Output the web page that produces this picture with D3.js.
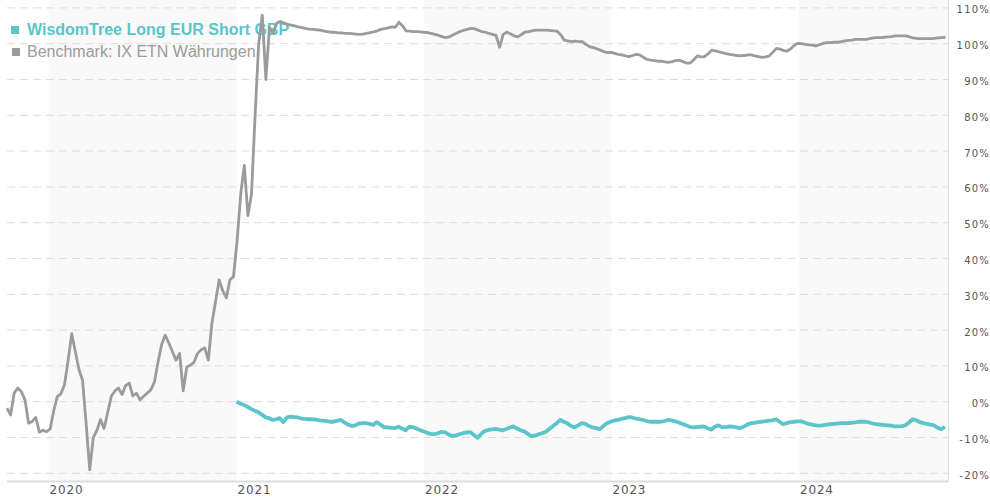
<!DOCTYPE html>
<html>
<head>
<meta charset="utf-8">
<script src="https://cdn.jsdelivr.net/npm/d3@7"></script>
<style>
  body { margin: 0; background: #fff; }
  svg { display: block; }
</style>
</head>
<body>
<svg id="chart" width="990" height="500"></svg>
<script>
// weekly closes (percent change)
const benchStart = '2019-10-12';
const benchValues = [
  -1.8, -3.7, 2.4, 3.8, 2.8, 0.5, -6, -5.5, -4.4, -8.5,
  -8, -8.4, -7.6, -2.5, 1.4, 2.2, 4.8, 11.5, 19, 14,
  9, 6, -6, -19, -10, -8, -5, -7.5, -3, 1.5,
  3, 3.8, 2, 4.5, 5.2, 1.6, 2.4, 0.5, 1.5, 2.4,
  3.3, 5.5, 11, 16, 18.6, 16.4, 14, 11.6, 13.5, 3,
  9.7, 10.2, 11, 13.5, 14.5, 15, 11.6, 22, 28, 34,
  31, 29, 34, 35, 45, 58, 66, 52, 58, 80,
  100, 108, 90, 104.6, 103, 105.7, 106.2, 105.8, 105.4, 105.2,
  105, 104.7, 104.5, 104.3, 104.1, 104, 103.9, 103.8, 103.6, 103.4,
  103.2, 103.2, 103, 103, 102.9, 102.9, 102.8, 102.7, 102.6, 102.7,
  102.9, 103.1, 103.3, 103.6, 104, 104.2, 104.4, 104.7, 104.6, 106,
  105, 103.6, 103.5, 103.4, 103.4, 103.3, 103.2, 103.1, 102.9, 102.6,
  102.3, 102, 101.7, 101.9, 102.4, 102.9, 103.4, 103.7, 104, 104.3,
  104.2, 103.8, 103.4, 103.2, 102.9, 102.6, 102.3, 99, 102.6, 103.2,
  102.8, 102.2, 101.9, 102.5, 103.2, 103.4, 103.6, 103.8, 103.8, 103.8,
  103.8, 103.7, 103.6, 103.5, 102.5, 101, 100.8, 100.6, 100.7, 100.6,
  100.6, 99.8, 99.2, 98.9, 98.6, 98.2, 97.8, 97.5, 97.6, 97.3,
  97, 96.9, 96.6, 96.4, 96.7, 97, 96.9, 96.2, 95.6, 95.4,
  95.3, 95.1, 95.1, 94.9, 94.8, 95, 95.3, 95.4, 95, 94.6,
  94.6, 95.5, 96.6, 96.3, 96.4, 97.2, 98.2, 98, 97.7, 97.5,
  97.2, 97, 96.9, 96.7, 96.6, 96.7, 96.9, 96.9, 96.6, 96.4,
  96.2, 96.3, 96.6, 97.6, 98.7, 98.5, 98.1, 97.9, 98.6, 99.6,
  100.1, 100, 99.8, 99.7, 99.6, 99.4, 99.7, 100.1, 100.3, 100.3,
  100.4, 100.4, 100.6, 100.8, 100.9, 101, 101.2, 101.2, 101.2, 101.2,
  101.4, 101.6, 101.7, 101.7, 101.8, 101.9, 102, 102.2, 102.2, 102.2,
  102.2, 101.9, 101.6, 101.5, 101.4, 101.4, 101.4, 101.4, 101.5, 101.6,
  101.7, 101.8
];

const fundStart = '2021-01-01';
const fundValues = [
  0, -0.5, -0.9, -1.4, -2, -2.5, -2.9, -3.6, -4.3, -4.6,
  -5.1, -4.9, -4.6, -5.7, -4.4, -4.2, -4.3, -4.4, -4.7, -4.8,
  -4.9, -4.9, -5, -5.2, -5.3, -5.4, -5.6, -5.6, -5.3, -5.1,
  -5.8, -6.4, -6.8, -6.6, -6.1, -6, -6, -6.2, -6.5, -5.7,
  -6.4, -7.1, -7.2, -7.3, -7.4, -7, -7.5, -8, -7, -7.1,
  -7.5, -7.9, -8.3, -8.7, -9, -9.1, -8.8, -8.4, -8.6, -9.2,
  -9.6, -9.4, -9.1, -8.8, -8.6, -8.5, -9.3, -10.1, -9, -8.2,
  -7.9, -7.7, -7.6, -7.8, -8, -7.6, -7.2, -6.9, -7.5, -8,
  -8.3, -9, -9.6, -9.5, -9.1, -8.8, -8.4, -7.6, -6.8, -6,
  -5.1, -5.6, -6, -6.8, -7.2, -6.6, -6, -6.2, -6.8, -7.2,
  -7.4, -7.7, -6.8, -6, -5.6, -5.3, -5.1, -4.8, -4.6, -4.3,
  -4.4, -4.7, -4.9, -5.1, -5.4, -5.6, -5.6, -5.6, -5.6, -5.4,
  -5.1, -5.2, -5.5, -5.8, -6.2, -6.6, -7, -7.2, -7.1, -7,
  -6.9, -7.4, -7.8, -7, -6.6, -7.1, -7.1, -6.9, -7, -7.2,
  -7.4, -7, -6.4, -6, -5.9, -5.7, -5.6, -5.5, -5.3, -5.2,
  -4.9, -5.6, -6.3, -6, -5.7, -5.6, -5.5, -5.5, -5.8, -6.2,
  -6.4, -6.6, -6.7, -6.6, -6.4, -6.3, -6.2, -6.1, -6, -6,
  -6, -5.9, -5.8, -5.6, -5.6, -5.6, -5.8, -6.1, -6.3, -6.4,
  -6.5, -6.6, -6.7, -6.9, -6.9, -6.8, -6.6, -5.8, -4.9, -5.2,
  -5.7, -6, -6.2, -6.4, -6.6, -7.3, -7.7, -7
];

const yTicks = [-20, -10, 0, 10, 20, 30, 40, 50, 60, 70, 80, 90, 100, 110];
const years = ['2020', '2021', '2022', '2023', '2024'];

const fundName = 'WisdomTree Long EUR Short GBP';
const benchName = 'Benchmark: IX ETN Währungen';

const TEAL = '#5bc5c9';
const GREY = '#9b9b9b';

const parse = d3.timeParse('%Y-%m-%d');

// turn a start date + weekly values into points
function weekly(start, values) {
  const t0 = parse(start);
  return values.map(function(v, i) {
    return { date: d3.timeDay.offset(t0, i * 7), value: v };
  });
}

const bench = weekly(benchStart, benchValues);
const fund = weekly(fundStart, fundValues);

// plot box
const plotLeft = 7, plotRight = 948, plotTop = 0, plotBottom = 481;

const x = d3.scaleTime()
  .domain([parse('2019-10-12'), parse('2024-10-17')])
  .range([plotLeft, plotRight]);

const y = d3.scaleLinear()
  .domain([-20, 110])
  .range([473.3, 7.9]);

const svg = d3.select('#chart');

// shaded year bands (every other year)
const bands = years.filter(function(d, i) { return i % 2 === 0; });
svg.append('g')
  .selectAll('rect')
  .data(bands)
  .enter()
  .append('rect')
  .attr('x', function(d) { return x(parse(d + '-01-01')); })
  .attr('y', plotTop)
  .attr('width', function(d) {
    const end = Math.min(x(parse((+d + 1) + '-01-01')), plotRight);
    return end - x(parse(d + '-01-01'));
  })
  .attr('height', plotBottom - plotTop)
  .attr('fill', '#f9f9f9');

// dashed grid
svg.append('g')
  .selectAll('line')
  .data(yTicks)
  .enter()
  .append('line')
  .attr('x1', plotLeft)
  .attr('x2', plotRight)
  .attr('y1', function(d) { return y(d); })
  .attr('y2', function(d) { return y(d); })
  .attr('stroke', '#dddddd')
  .attr('stroke-width', 1)
  .attr('stroke-dasharray', '8,5');

// frame: right edge and bottom baseline
svg.append('line')
  .attr('x1', plotRight + 0.5).attr('x2', plotRight + 0.5)
  .attr('y1', plotTop).attr('y2', plotBottom)
  .attr('stroke', '#dddddd');
svg.append('line')
  .attr('x1', plotLeft).attr('x2', plotRight)
  .attr('y1', plotBottom + 0.5).attr('y2', plotBottom + 0.5)
  .attr('stroke', '#dddddd')
  .attr('stroke-width', 2);

// y tick labels on the right
svg.append('g')
  .selectAll('text')
  .data(yTicks)
  .enter()
  .append('text')
  .attr('x', 990)
  .attr('y', function(d) { return y(d) + 2; })
  .attr('dy', '0.35em')
  .attr('text-anchor', 'end')
  .attr('font-family', 'DejaVu Sans, Verdana, sans-serif')
  .attr('font-size', 10)
  .attr('letter-spacing', 1.2)
  .attr('fill', '#555')
  .text(function(d) { return d + '%'; });

// year labels
svg.append('g')
  .selectAll('text')
  .data(years)
  .enter()
  .append('text')
  .attr('x', function(d) { return x(parse(d + '-01-01')) + 1; })
  .attr('y', 494)
  .attr('font-family', 'DejaVu Sans, Verdana, sans-serif')
  .attr('font-size', 12)
  .attr('letter-spacing', 0.8)
  .attr('fill', '#555')
  .text(function(d) { return d; });

// legend
const legend = svg.append('g');
legend.append('rect')
  .attr('x', 11).attr('y', 26).attr('width', 8).attr('height', 8)
  .attr('fill', TEAL);
legend.append('text')
  .attr('x', 27).attr('y', 35)
  .attr('font-family', 'Liberation Sans, Arial, sans-serif')
  .attr('font-size', 16)
  .attr('font-weight', 'bold')
  .attr('fill', TEAL)
  .text(fundName);
legend.append('rect')
  .attr('x', 12).attr('y', 48).attr('width', 8).attr('height', 8)
  .attr('fill', GREY);
legend.append('text')
  .attr('x', 27).attr('y', 57)
  .attr('font-family', 'Liberation Sans, Arial, sans-serif')
  .attr('font-size', 16)
  .attr('fill', GREY)
  .text(benchName);

const line = d3.line()
  .x(function(d) { return x(d.date); })
  .y(function(d) { return y(d.value); });

svg.append('path')
  .datum(bench)
  .attr('d', line)
  .attr('fill', 'none')
  .attr('stroke', GREY)
  .attr('stroke-width', 2.8)
  .attr('stroke-linejoin', 'round');

svg.append('path')
  .datum(fund)
  .attr('d', line)
  .attr('fill', 'none')
  .attr('stroke', TEAL)
  .attr('stroke-width', 3.8)
  .attr('stroke-linejoin', 'round');
</script>
</body>
</html>
